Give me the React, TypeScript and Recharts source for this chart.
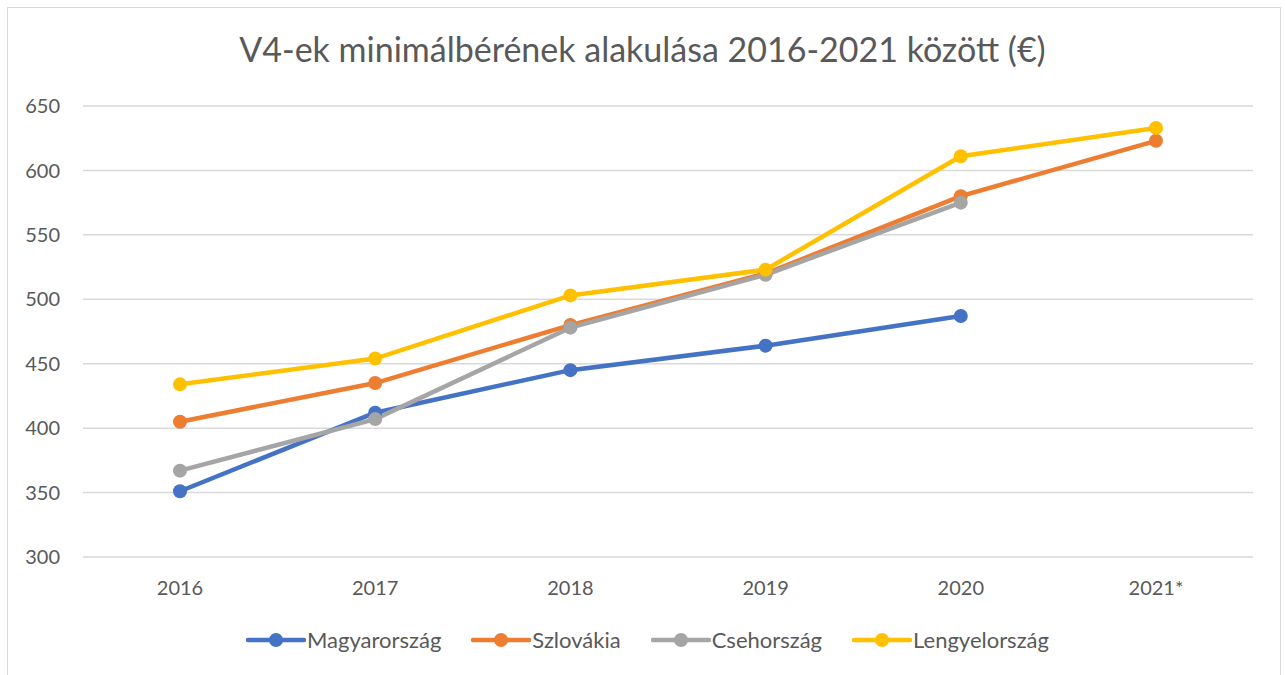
import React from 'react';
import { LineChart, Line, XAxis, YAxis, CartesianGrid } from 'recharts';

const years = ['2016', '2017', '2018', '2019', '2020', '2021*'];
const magyarorszag = [351, 412, 445, 464, 487, null];
const szlovakia = [405, 435, 480, 520, 580, 623];
const csehorszag = [367, 407, 478, 519, 575, null];
const lengyelorszag = [434, 454, 503, 523, 611, 633];
const yTicks = [300, 350, 400, 450, 500, 550, 600, 650];

const series = [
  { key: 'Magyarország', values: magyarorszag, color: '#4472C4' },
  { key: 'Szlovákia', values: szlovakia, color: '#ED7D31' },
  { key: 'Csehország', values: csehorszag, color: '#A5A5A5' },
  { key: 'Lengyelország', values: lengyelorszag, color: '#FFC000' },
];

const data = years.map((y, i) => {
  const row: Record<string, any> = { year: y };
  series.forEach((s) => {
    row[s.key] = s.values[i];
  });
  return row;
});

const FONT = 'Lato, "Open Sans", sans-serif';
const TEXT = '#595959';

export default function App() {
  return (
    <div style={{ position: 'absolute', left: 0, top: 0, width: 1285, height: 675, background: '#fff', fontFamily: FONT }}>
      <div style={{ position: 'absolute', left: 7, top: 7, width: 1274, height: 680, border: '1px solid #D9D9D9', boxSizing: 'border-box' }} />
      <div style={{ position: 'absolute', left: 0, top: 28, width: 1285, textAlign: 'center', fontSize: 34, color: TEXT, whiteSpace: 'nowrap' }}>
        V4-ek minimálbérének alakulása 2016-2021 között (€)
      </div>
      <div style={{ position: 'absolute', left: 0, top: 0 }}>
        <LineChart width={1285} height={675} data={data} margin={{ top: 106, right: 32, bottom: 88, left: 0 }}>
          <CartesianGrid horizontal vertical={false} stroke="#D9D9D9" strokeWidth={1.5} />
          <XAxis
            dataKey="year"
            axisLine={false}
            tickLine={false}
            height={30}
            tickSize={0}
            tickMargin={24}
            padding={{ left: 97, right: 97 }}
            interval={0}
            tick={{ fill: TEXT, fontSize: 20, fontFamily: FONT }}
          />
          <YAxis
            domain={[300, 650]}
            ticks={yTicks}
            width={83}
            axisLine={false}
            tickLine={false}
            tickSize={0}
            tickMargin={23}
            tick={{ fill: TEXT, fontSize: 20, fontFamily: FONT }}
          />
          {series.map((s) => (
            <Line
              key={s.key}
              dataKey={s.key}
              stroke={s.color}
              strokeWidth={4.5}
              dot={{ r: 7, fill: s.color, stroke: s.color, strokeWidth: 0 }}
              activeDot={false}
              isAnimationActive={false}
              connectNulls={false}
            />
          ))}
        </LineChart>
      </div>
      <div style={{ position: 'absolute', left: 0, top: 626, width: 1285, display: 'flex', justifyContent: 'center', gap: 30, paddingLeft: 10, boxSizing: 'border-box' }}>
        {series.map((s) => (
          <div key={s.key} style={{ display: 'flex', alignItems: 'center', fontSize: 22, color: TEXT }}>
            <svg width={60} height={24} style={{ marginRight: 1 }}>
              <line x1={2} y1={12} x2={58} y2={12} stroke={s.color} strokeWidth={4.5} strokeLinecap="round" />
              <circle cx={30} cy={12} r={7} fill={s.color} />
            </svg>
            <span>{s.key}</span>
          </div>
        ))}
      </div>
    </div>
  );
}
